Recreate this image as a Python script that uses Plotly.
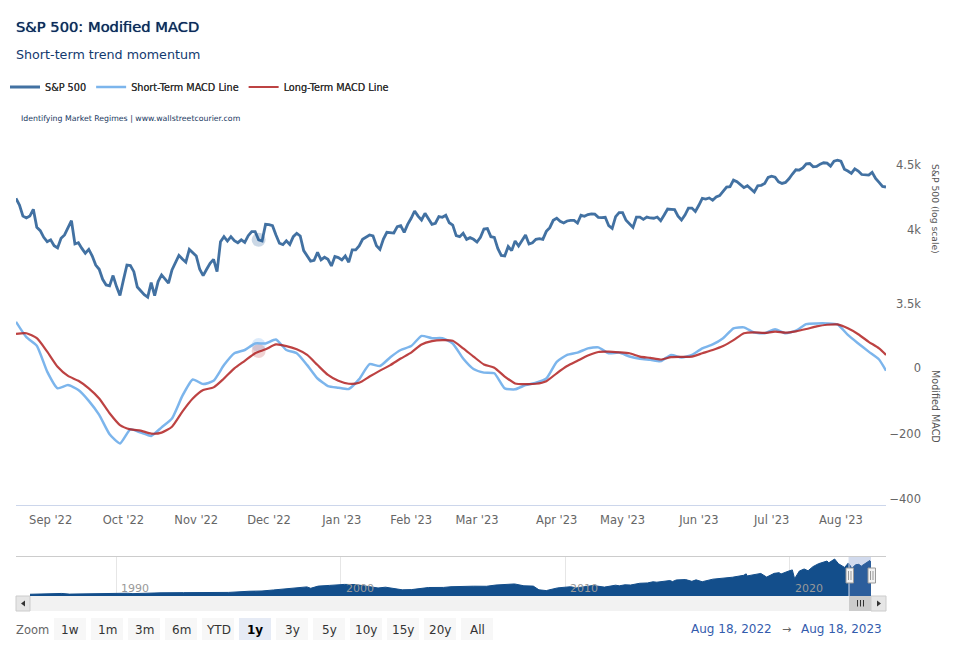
import numpy as np
import pandas as pd
import plotly.graph_objects as go

# ---------- data ----------
holidays = ["2022-09-05", "2022-11-24", "2022-12-26", "2023-01-02", "2023-01-16",
            "2023-02-20", "2023-04-07", "2023-05-29", "2023-06-19", "2023-07-04"]
sessions = [d.strftime("%Y-%m-%d") for d in pd.bdate_range("2022-08-18", "2023-08-18")
            if d.strftime("%Y-%m-%d") not in holidays]

sp500 = [
 4236,4185,4102,4088,4102,4153,4019,3995,3947,3916,3929,3888,3872,3940,3964,4017,4068,3900,3909,3869,
 3835,3862,3816,3754,3725,3658,3621,3615,3683,3610,3552,3654,3754,3750,3709,3607,3582,3557,3542,3636,
 3551,3643,3687,3661,3633,3721,3770,3820,3795,3773,3862,3839,3816,3725,3683,3725,3766,3793,3709,3916,
 3952,3921,3952,3923,3909,3929,3911,3959,3988,3988,3929,3921,4041,4039,4031,3964,3905,3895,3923,3897,
 3952,3976,3957,3853,3812,3781,3786,3841,3789,3807,3793,3748,3812,3805,3789,3816,3773,3858,3858,3886,
 3933,3947,3964,3957,3888,3862,3935,3983,3981,3978,4024,4031,3983,4041,4086,4140,4102,4073,4123,4078,
 4041,4049,4098,4093,4108,4053,4036,3959,3952,3976,3933,3945,3933,3914,3947,4007,4010,3952,3947,3869,
 3820,3816,3882,3853,3921,3886,3921,3964,3900,3909,3933,3938,3933,3990,4017,4071,4086,4063,4051,4066,
 4071,4071,4051,4108,4100,4113,4118,4116,4093,4090,4093,4031,4012,4098,4128,4128,4071,4044,4019,4095,
 4095,4078,4095,4088,4086,4095,4068,4110,4155,4153,4150,4102,4073,4110,4162,4162,4137,4183,4236,4231,
 4239,4221,4246,4257,4295,4324,4326,4378,4365,4345,4319,4334,4306,4285,4334,4337,4352,4400,4410,4402,
 4365,4352,4360,4389,4427,4461,4459,4477,4510,4512,4485,4488,4507,4518,4515,4491,4531,4539,4531,4466,
 4451,4432,4469,4451,4423,4421,4418,4440,4392,4360,4329,4324]

short_macd = [
 141,94,68,-11,-62,-52,-67,-100,-143,-202,-230,-187,-197,-207,-181,-154,-85,-35,-49,-39,
 9,45,55,75,75,87,55,45,
 9,-32,-55,-60,-64,-34,12,6,33,55,67,98,91,91,75,29,-3,-14,-16,-62,-65,-52,-45,-32,19,40,47,60,63,
 45,47,35,28,25,21,40,32,40,60,72,91,121,124,108,106,118,106,114,134,136,136,133,101,75,50,26,-8]
long_macd = [
 104,106,91,50,4,-24,-39,-62,-93,-138,-174,-187,-191,-200,-197,-179,-133,-93,-67,-59,
 -32,-1,22,45,57,72,67,57,
 40,9,-21,-39,-48,-45,-26,-8,9,29,47,72,82,85,83,60,35,11,1,-26,-47,-49,-48,-40,-16,6,22,38,49,
 50,48,45,35,31,26,33,34,35,45,55,67,85,106,109,107,111,108,112,119,127,132,133,121,103,80,60,40]
macd_dates = sessions[::3] + [sessions[-1]]

highlight_date = sessions[70]
highlight_sp = sp500[70]
highlight_short = 70
highlight_long = 52

month_ticks = ["2022-09-01","2022-10-03","2022-11-01","2022-12-01","2023-01-03","2023-02-01",
               "2023-03-01","2023-04-03","2023-05-01","2023-06-01","2023-07-03","2023-08-01"]
month_labels = ["Sep '22","Oct '22","Nov '22","Dec '22","Jan '23","Feb '23",
                "Mar '23","Apr '23","May '23","Jun '23","Jul '23","Aug '23"]

nav_dates = ["1986-03-01","1986-08-01","1987-02-01","1987-08-01","1987-12-01","1988-06-01","1989-01-01","1989-08-01",
 "1990-01-01","1990-07-01","1990-10-01","1991-04-01","1992-01-01","1993-01-01","1994-01-01","1995-01-01","1995-12-01",
 "1996-07-01","1997-01-01","1997-08-01","1998-04-01","1998-07-01","1998-09-01","1999-01-01","1999-07-01","2000-03-01",
 "2000-09-01","2001-01-01","2001-04-01","2001-09-01","2002-01-01","2002-07-01","2002-10-01","2003-03-01","2003-12-01",
 "2004-08-01","2004-12-01","2005-12-01","2006-07-01","2006-12-01","2007-10-01","2008-03-01","2008-08-01","2008-11-01",
 "2009-03-01","2009-09-01","2010-04-01","2010-07-01","2011-04-01","2011-10-01","2012-04-01","2012-06-01","2012-09-01",
 "2012-12-01","2013-05-01","2013-09-01","2013-12-01","2014-02-01","2014-09-01","2014-10-15","2014-12-15","2015-05-15",
 "2015-08-25","2015-11-01","2016-02-10","2016-08-01","2016-12-15","2017-06-15","2017-12-15","2018-01-25","2018-02-10",
 "2018-09-20","2018-12-24","2019-04-25","2019-07-15","2019-08-15","2019-12-20","2020-02-15","2020-03-23","2020-06-08",
 "2020-08-25","2020-10-28","2021-01-15","2021-04-15","2021-09-01","2021-10-01","2022-01-03","2022-03-08","2022-06-15",
 "2022-08-15","2022-10-12","2022-12-10","2023-02-01","2023-03-12","2023-07-28","2023-08-18"]
nav_values = [225,250,280,330,245,270,290,350,330,360,305,375,415,435,470,465,615,650,780,950,1110,1180,1000,1280,1370,1500,
 1480,1340,1150,1040,1140,900,800,830,1100,1110,1200,1270,1260,1420,1560,1320,1280,800,700,1050,1200,1050,1360,1150,1400,
 1320,1450,1420,1650,1690,1840,1790,2000,1870,2080,2130,1900,2090,1850,2180,2250,2430,2680,2870,2600,2920,2450,2930,3020,
 2850,3240,3380,2240,3230,3500,3270,3800,4180,4530,4300,4790,4170,3700,4280,3580,4050,4100,3860,4590,4370]
nav_ticks = ["1990-01-01","2000-01-01","2010-01-01","2020-01-01"]
nav_labels = ["1990","2000","2010","2020"]

range_buttons = ["1w","1m","3m","6m","YTD","1y","3y","5y","10y","15y","20y","All"]
active_button = "1y"

# ---------- layout helpers ----------
FONT = "DejaVu Sans"
def px(x): return x / 960
def py(y): return 1 - y / 660
def rect(x0, y0, x1, y1, fill, line=None, width=1, layer="above"):
    return dict(type="rect", xref="paper", yref="paper", x0=px(x0), x1=px(x1), y0=py(y0), y1=py(y1),
                fillcolor=fill, line=dict(color=line or fill, width=width if line else 0), layer=layer)
def seg(x0, y0, x1, y1, color, width=1, layer="above"):
    return dict(type="line", xref="paper", yref="paper", x0=px(x0), x1=px(x1), y0=py(y0), y1=py(y1),
                line=dict(color=color, width=width), layer=layer)
def tri(pts, fill):
    p = "M" + " L".join(f"{px(a)},{py(b)}" for a, b in pts) + " Z"
    return dict(type="path", xref="paper", yref="paper", path=p, fillcolor=fill, line=dict(width=0), layer="above")
def text(x, y, s, size=12, color="#333333", anchor="left", bold=False, **kw):
    x = x - 2 if anchor == "left" else x
    return dict(xref="paper", yref="paper", x=px(x), y=py(y), text=f"<b>{s}</b>" if bold else s, showarrow=False,
                xanchor=anchor, yanchor="middle", font=dict(family=FONT, size=size, color=color), **kw)

fig = go.Figure()

# carries the time axis at the foot of the MACD pane
fig.add_trace(go.Scatter(x=[sessions[0]], y=[0.5], yaxis="y4", mode="lines", showlegend=False, hoverinfo="skip",
                         line=dict(color="rgba(0,0,0,0)", width=0)))

# hover halos
fig.add_trace(go.Scatter(x=[highlight_date], y=[highlight_sp], yaxis="y", mode="markers", showlegend=False, hoverinfo="skip",
                         marker=dict(size=14, color="rgba(19,78,139,0.22)")))
fig.add_trace(go.Scatter(x=[highlight_date], y=[highlight_short], yaxis="y2", mode="markers", showlegend=False, hoverinfo="skip",
                         marker=dict(size=14, color="rgba(124,181,236,0.28)")))
fig.add_trace(go.Scatter(x=[highlight_date], y=[highlight_long], yaxis="y2", mode="markers", showlegend=False, hoverinfo="skip",
                         marker=dict(size=14, color="rgba(178,34,34,0.2)")))

fig.add_trace(go.Scatter(x=sessions, y=sp500, name="S&P 500", yaxis="y", mode="lines",
                         line=dict(color="#134e8b", width=2.8), opacity=0.8))
fig.add_trace(go.Scatter(x=macd_dates, y=short_macd, name="Short-Term MACD Line", yaxis="y2", mode="lines",
                         line=dict(color="#7cb5ec", width=2.5, shape="spline", smoothing=0.5)))
fig.add_trace(go.Scatter(x=macd_dates, y=long_macd, name="Long-Term MACD Line", yaxis="y2", mode="lines",
                         line=dict(color="#b22222", width=2.2, shape="spline", smoothing=0.6), opacity=0.85))

# navigator
fig.add_trace(go.Scatter(x=nav_dates, y=nav_values, xaxis="x2", yaxis="y3", mode="lines", fill="tozeroy", showlegend=False,
                         hoverinfo="skip", line=dict(color="#134e8b", width=1), fillcolor="#134e8b"))

shapes = [seg(16, 556.5, 886, 556.5, "#cccccc")]
# selection mask and handles
shapes.append(rect(849, 557, 871, 596, "rgba(102,133,194,0.3)"))
shapes.append(seg(849, 557, 849, 596, "#d8dfee"))
for x0 in (846, 868):
    shapes.append(rect(x0, 568, x0 + 7.5, 583, "#f2f2f2", "#999999"))
    shapes.append(seg(x0 + 2.5, 571, x0 + 2.5, 580, "#999999"))
    shapes.append(seg(x0 + 5, 571, x0 + 5, 580, "#999999"))
# scrollbar
shapes.append(rect(16, 596, 886, 611, "#f2f2f2"))
shapes.append(rect(16, 596, 30, 611, "#e6e6e6", "#cccccc"))
shapes.append(rect(871, 596, 886, 611, "#e6e6e6", "#cccccc"))
shapes.append(rect(849, 596, 871, 611, "#cccccc"))
for gx in (857.5, 860.5, 863.5):
    shapes.append(seg(gx, 600, gx, 606.5, "#333333"))
shapes.append(tri([(21, 603.5), (25, 600.5), (25, 606.5)], "#333333"))
shapes.append(tri([(881, 603.5), (877, 600.5), (877, 606.5)], "#333333"))

annotations = [
    text(16, 54.5, "Short-term trend momentum", size=12.7, color="#123a6f"),
    text(21, 118, "Identifying Market Regimes | www.wallstreetcourier.com", size=7.8, color="#17375e"),
    dict(xref="paper", yref="paper", x=px(936), y=py(209), text="S&P 500 (log scale)", textangle=90, showarrow=False,
         xanchor="center", yanchor="middle", font=dict(family=FONT, size=9.2, color="#555555")),
    dict(xref="paper", yref="paper", x=px(936), y=py(406), text="Modified MACD", textangle=90, showarrow=False,
         xanchor="center", yanchor="middle", font=dict(family=FONT, size=9.6, color="#555555")),
    text(16, 630, "Zoom", size=11.5, color="#666666"),
    text(691, 629, "Aug 18, 2022", size=12, color="#335cad"),
    text(782, 629, "→", size=11, color="#666666"),
    text(801, 629, "Aug 18, 2023", size=12, color="#335cad"),
]
for d, s in zip(nav_ticks, nav_labels):
    annotations.append(dict(xref="x2", yref="paper", x=d, y=py(588), text=s, showarrow=False, xanchor="left", xshift=3,
                            yanchor="middle", font=dict(family=FONT, size=11, color="#999999")))
for k, b in enumerate(range_buttons):
    x0 = 54 + 37 * k
    on = b == active_button
    shapes.append(dict(type="rect", xref="paper", yref="paper", x0=px(x0), x1=px(x0 + 32), y0=py(618), y1=py(640),
                       fillcolor="#e6ebf5" if on else "#f7f7f7", line=dict(width=0), layer="above"))
    annotations.append(text(x0 + 16, 630, b, size=12, color="#000000" if on else "#333333", anchor="center", bold=on))

fig.update_layout(
    width=960, height=660, autosize=False,
    margin=dict(l=0, r=0, t=0, b=0),
    paper_bgcolor="white", plot_bgcolor="white",
    font=dict(family=FONT, color="#333333"),
    hovermode=False,
    title=dict(text="S&P 500: Modified MACD", x=px(16), xanchor="left", y=py(27), yanchor="middle",
               xref="paper", yref="paper",
               font=dict(family=FONT, size=14.7, color="#0b2b5c", shadow="0 0 0.7px #0b2b5c")),
    legend=dict(orientation="h", x=px(5), y=py(87), xanchor="left", yanchor="middle", bgcolor="rgba(0,0,0,0)",
                font=dict(family=FONT, size=9.7, color="#333333", shadow="0 0 0.6px #333333")),
    xaxis=dict(domain=[px(16), px(886)], anchor="y4", type="date", range=["2022-08-18", "2023-08-18"],
               rangebreaks=[dict(bounds=["sat", "mon"]), dict(values=holidays, dvalue=86400000)],
               tickmode="array", tickvals=month_ticks, ticktext=month_labels, showgrid=False, zeroline=False,
               showline=True, linecolor="#ccd6eb", ticks="", ticklabelstandoff=4,
               tickfont=dict(family=FONT, size=11.5, color="#666666")),
    yaxis=dict(domain=[py(330), py(145)], type="log", range=[float(np.log10(3337)), float(np.log10(4666))],
               anchor="free", position=px(924), side="right", ticklabelposition="inside",
               tickmode="array", tickvals=[3500, 4000, 4500], ticktext=["3.5k", "4k", "4.5k"],
               showgrid=False, zeroline=False, showline=False, ticks="",
               tickfont=dict(family=FONT, size=11.5, color="#666666")),
    yaxis2=dict(domain=[py(530), py(310)], range=[-494, 177], anchor="free", position=px(924), side="right",
                ticklabelposition="inside", tickmode="array", tickvals=[-400, -200, 0],
                ticktext=["−400", "−200", "0"], showgrid=False, zeroline=False, showline=False, ticks="",
                tickfont=dict(family=FONT, size=11.5, color="#666666")),
    yaxis4=dict(domain=[py(505), py(480)], anchor="x", visible=False, showgrid=False, zeroline=False, range=[0, 1]),
    xaxis2=dict(domain=[px(30), px(871)], anchor="y3", type="date", range=["1986-03-01", "2023-08-18"],
                tickmode="array", tickvals=nav_ticks, showticklabels=False, showgrid=True, gridcolor="#e6e6e6",
                zeroline=False, showline=False, ticks=""),
    yaxis3=dict(domain=[py(596), py(557)], range=[0, 5050], anchor="x2", visible=False, showgrid=False, zeroline=False),
    shapes=shapes, annotations=annotations,
)

fig.write_html("out.html", config=dict(displayModeBar=False),
               post_script="document.body.style.margin='0';")
